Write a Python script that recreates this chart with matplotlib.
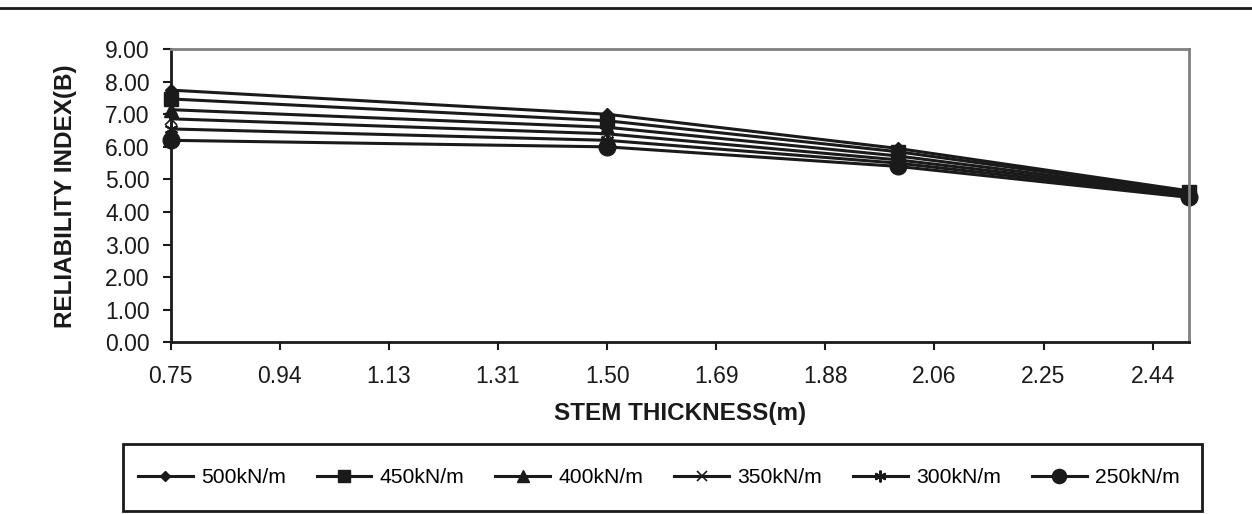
import matplotlib.pyplot as plt
from matplotlib.lines import Line2D
from matplotlib.patches import Rectangle

plt.rcParams['font.family'] = ['Liberation Sans', 'DejaVu Sans']

# ==================== data ====================
thickness = [0.75, 1.50, 2.00, 2.50]
beta_500 = [7.74, 7.00, 5.95, 4.65]
beta_450 = [7.47, 6.80, 5.85, 4.62]
beta_400 = [7.14, 6.60, 5.72, 4.58]
beta_350 = [6.86, 6.40, 5.60, 4.55]
beta_300 = [6.55, 6.20, 5.50, 4.50]
beta_250 = [6.20, 6.00, 5.40, 4.45]
series_labels = ['500kN/m', '450kN/m', '400kN/m', '350kN/m', '300kN/m', '250kN/m']

x_ticks = [0.75, 0.9375, 1.125, 1.3125, 1.5, 1.6875, 1.875, 2.0625, 2.25, 2.4375]
x_tick_labels = ['0.75', '0.94', '1.13', '1.31', '1.50', '1.69', '1.88', '2.06', '2.25', '2.44']
y_ticks = [0, 1, 2, 3, 4, 5, 6, 7, 8, 9]

# ==================== plot ====================
fig = plt.figure(figsize=(12.52, 5.14), dpi=100)
ax = fig.add_axes([0.1363, 0.3337, 0.9497 - 0.1363, 0.9046 - 0.3337])

markers = [
    dict(marker='D', markersize=6),
    dict(marker='s', markersize=10),
    dict(marker='^', markersize=10),
    dict(marker='x', markersize=8, markeredgewidth=1.2),
    dict(marker=(6, 2, 0), markersize=10, markeredgewidth=1.5),
    dict(marker='o', markersize=12),
]
all_series = [beta_500, beta_450, beta_400, beta_350, beta_300, beta_250]
for vals, lab, mk in zip(all_series, series_labels, markers):
    ax.plot(thickness, vals, color='#1a1a1a', lw=2.2, label=lab, clip_on=False, **mk)

ax.set_xlim(0.75, 2.5)
ax.set_ylim(0, 9)
ax.set_xticks(x_ticks)
ax.set_xticklabels(x_tick_labels)
ax.set_yticks(y_ticks)
ax.set_yticklabels([f'{v:.2f}' for v in y_ticks])
ax.tick_params(axis='both', labelsize=16.5, length=6, width=1.5, color='#1a1a1a', labelcolor='#1a1a1a')
ax.tick_params(axis='x', pad=10)
ax.tick_params(axis='y', pad=9)

for side in ['left', 'bottom']:
    ax.spines[side].set_color('#1a1a1a')
    ax.spines[side].set_linewidth(2)
for side in ['top', 'right']:
    ax.spines[side].set_color('#808080')
    ax.spines[side].set_linewidth(2)

ax.set_xlabel('STEM THICKNESS(m)', fontsize=17.5, fontweight='bold', color='#1a1a1a', labelpad=10)
ax.set_ylabel('RELIABILITY INDEX(B)', fontsize=17.5, fontweight='bold', color='#1a1a1a', labelpad=20)

# top rule line across the page
fig.add_artist(Line2D([0, 1], [1 - 8 / 514, 1 - 8 / 514], color='#1a1a1a', lw=2, transform=fig.transFigure))

# legend box
box_x0, box_x1 = 123 / 1252, 1202 / 1252
box_y0, box_y1 = 1 - 511 / 514, 1 - 444 / 514
fig.add_artist(Rectangle((box_x0, box_y0), box_x1 - box_x0, box_y1 - box_y0,
                         transform=fig.transFigure, fill=False, edgecolor='#1a1a1a', lw=2))
handles, labels = ax.get_legend_handles_labels()
fig.legend(handles, labels, loc='center', ncol=6, frameon=False, fontsize=15.2,
           bbox_to_anchor=((box_x0 + box_x1) / 2 - 0.003, (box_y0 + box_y1) / 2),
           handlelength=2.6, handletextpad=0.4, columnspacing=1.45, markerscale=0.85)

plt.savefig('out.png', dpi=100)
plt.close()
